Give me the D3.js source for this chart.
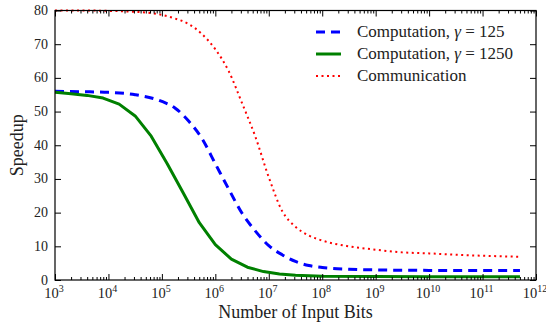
<!DOCTYPE html>
<html>
<head>
<meta charset="utf-8">
<script src="https://cdn.jsdelivr.net/npm/d3@7"></script>
<style>
  body { margin: 0; background: #fff; }
  svg text { font-family: "Liberation Serif", serif; fill: #222; }
</style>
</head>
<body>
<svg id="chart" width="546" height="324"></svg>
<script>
// input bits, as log10 exponent
const bitsComp125 = [3, 3.5, 4, 4.5, 5, 5.25, 5.5, 5.75, 6, 6.25, 6.5, 6.75, 7, 7.25, 7.5, 7.75, 8, 8.5, 9, 9.5, 10, 10.5, 11, 11.7];
const speedupComp125 = [56.0, 55.9, 55.7, 55.0, 53.0, 51.0, 47.2, 42.0, 34.5, 27.0, 19.8, 14.5, 10.2, 7.5, 5.5, 4.3, 3.7, 3.2, 3.0, 2.9, 2.85, 2.8, 2.8, 2.8];

const bitsComp1250 = [3, 3.3, 3.6, 3.9, 4.2, 4.5, 4.8, 5.1, 5.4, 5.7, 6, 6.3, 6.6, 6.9, 7.2, 7.5, 8, 9, 10, 11, 11.7];
const speedupComp1250 = [55.7, 55.3, 54.8, 54.0, 52.2, 48.7, 42.7, 34.5, 25.8, 17.0, 10.5, 6.2, 3.8, 2.5, 1.8, 1.4, 1.15, 1.05, 1.0, 1.0, 1.0];

const bitsComm = [3, 3.5, 4, 4.5, 4.75, 5, 5.25, 5.5, 5.75, 6, 6.25, 6.5, 6.75, 7, 7.25, 7.5, 7.75, 8, 8.5, 9, 9.5, 10, 10.5, 11, 11.7];
const speedupComm = [80, 80, 79.9, 79.6, 79.3, 78.7, 77.6, 76.0, 73.0, 68.5, 62.0, 52.5, 42.5, 30.5, 20.5, 15.8, 13.2, 11.7, 10.0, 9.0, 8.2, 7.9, 7.5, 7.2, 6.9];

const xTickExps = [3, 4, 5, 6, 7, 8, 9, 10, 11, 12];
const yTicks = [0, 10, 20, 30, 40, 50, 60, 70, 80];

const seriesNames = ["Computation, \u03b3 = 125", "Computation, \u03b3 = 1250", "Communication"];

const plotLeft = 55, plotRight = 536, plotTop = 10.5, plotBottom = 280;

const svg = d3.select("#chart");

const x = d3.scaleLog().domain([1e3, 1e12]).range([plotLeft, plotRight]);
const y = d3.scaleLinear().domain([0, 80]).range([plotBottom, plotTop]);

const series = [
  { name: seriesNames[0], xs: bitsComp125, ys: speedupComp125, color: "#0000ff", width: 3, dash: "9,6", curve: d3.curveMonotoneX },
  { name: seriesNames[1], xs: bitsComp1250, ys: speedupComp1250, color: "#008000", width: 3, dash: null, curve: d3.curveLinear },
  { name: seriesNames[2], xs: bitsComm, ys: speedupComm, color: "#ff0000", width: 2, dash: "2,3.5", curve: d3.curveMonotoneX }
];

const plot = svg.append("g");
plot.append("clipPath").attr("id", "clip")
  .append("rect").attr("x", plotLeft).attr("y", plotTop - 2)
  .attr("width", plotRight - plotLeft).attr("height", plotBottom - plotTop + 2);

series.forEach(s => {
  const line = d3.line()
    .x(d => x(Math.pow(10, d[0])))
    .y(d => y(d[1]))
    .curve(s.curve);
  plot.append("path")
    .datum(s.xs.map((v, i) => [v, s.ys[i]]))
    .attr("fill", "none")
    .attr("stroke", s.color)
    .attr("stroke-width", s.width)
    .attr("stroke-dasharray", s.dash)
    .attr("stroke-linejoin", "round")
    .attr("clip-path", "url(#clip)")
    .attr("d", line);
});

// minor ticks for log axis
let minor = [];
for (let e = 3; e < 12; e++) {
  for (let m = 2; m < 10; m++) minor.push(m * Math.pow(10, e));
}
const major = xTickExps.map(e => Math.pow(10, e));

// axes with inward ticks on all four sides
const fmtNone = () => "";
function addAxis(axis, tx, ty) {
  const g = svg.append("g").attr("transform", "translate(" + tx + "," + ty + ")").call(axis);
  g.select(".domain").remove();
  g.selectAll(".tick line").attr("stroke", "#000");
  return g;
}
addAxis(d3.axisBottom(x).tickValues(minor).tickSize(-3).tickFormat(fmtNone), 0, plotBottom);
addAxis(d3.axisBottom(x).tickValues(major).tickSize(-6).tickFormat(fmtNone), 0, plotBottom);
addAxis(d3.axisTop(x).tickValues(minor).tickSize(-3).tickFormat(fmtNone), 0, plotTop);
addAxis(d3.axisTop(x).tickValues(major).tickSize(-6).tickFormat(fmtNone), 0, plotTop);
addAxis(d3.axisLeft(y).tickValues(yTicks).tickSize(-6).tickFormat(fmtNone), plotLeft, 0);
addAxis(d3.axisRight(y).tickValues(yTicks).tickSize(-6).tickFormat(fmtNone), plotRight, 0);

svg.append("rect")
  .attr("x", plotLeft).attr("y", plotTop)
  .attr("width", plotRight - plotLeft).attr("height", plotBottom - plotTop)
  .attr("fill", "none").attr("stroke", "#000").attr("stroke-width", 1.2);

// tick labels
svg.selectAll(".ylab").data(yTicks).join("text")
  .attr("x", plotLeft - 7).attr("y", d => y(d) + 4.5)
  .attr("text-anchor", "end").attr("font-size", 14)
  .text(d => d);

const xl = svg.selectAll(".xlab").data(xTickExps).join("text")
  .attr("x", d => x(Math.pow(10, d)) - 1)
  .attr("y", plotBottom + 18)
  .attr("text-anchor", "middle").attr("font-size", 14.5);
xl.append("tspan").text("10");
xl.append("tspan").attr("dy", -6).attr("font-size", 10).text(d => d);

svg.append("text")
  .attr("x", (plotLeft + plotRight) / 2).attr("y", 318)
  .attr("text-anchor", "middle").attr("font-size", 18)
  .text("Number of Input Bits");

svg.append("text")
  .attr("transform", "translate(23," + ((plotTop + plotBottom) / 2) + ") rotate(-90)")
  .attr("text-anchor", "middle").attr("font-size", 18)
  .text("Speedup");

// legend
const legend = svg.append("g").attr("transform", "translate(316,32)");
series.forEach((s, i) => {
  const row = legend.append("g").attr("transform", "translate(0," + (i * 22) + ")");
  row.append("line")
    .attr("x1", 0).attr("x2", 25).attr("y1", 0).attr("y2", 0)
    .attr("stroke", s.color).attr("stroke-width", s.width)
    .attr("stroke-dasharray", s.dash);
  const t = row.append("text").attr("x", 41).attr("y", 5).attr("font-size", 17);
  const parts = s.name.split("\u03b3");
  t.append("tspan").text(parts[0]);
  if (parts.length > 1) {
    t.append("tspan").attr("font-style", "italic").text("\u03b3");
    t.append("tspan").text(parts[1]);
  }
});
</script>
</body>
</html>
